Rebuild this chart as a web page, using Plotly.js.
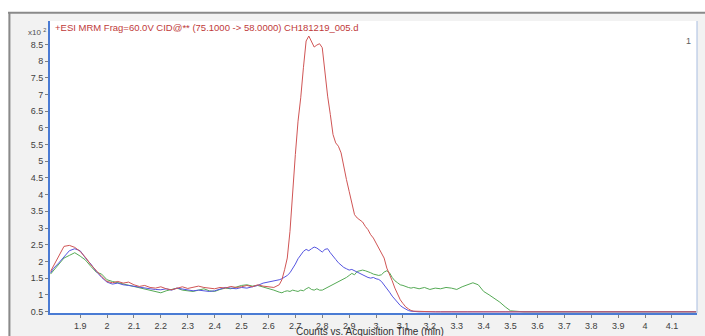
<!DOCTYPE html>
<html>
<head>
<meta charset="utf-8">
<script src="https://cdn.plot.ly/plotly-3.0.1.min.js"></script>
<style>html,body{margin:0;padding:0;background:#fff;}#chart{width:705px;height:336px;}</style>
</head>
<body>
<div id="chart"></div>
<script>
// Acquisition time (min)
var time = [1.79,1.80,1.82,1.84,1.86,1.88,1.90,1.92,1.94,1.96,1.98,2.00,2.02,2.04,2.06,2.08,2.10,2.12,2.14,2.16,2.18,2.20,2.22,2.24,2.26,2.28,2.30,2.32,2.34,2.36,2.38,2.40,2.42,2.44,2.46,2.48,2.50,2.52,2.54,2.56,2.58,2.60,2.62,2.64,
2.65,2.66,2.67,2.68,2.69,2.70,2.71,2.72,2.73,2.74,2.75,2.76,2.77,2.78,2.79,2.80,2.81,2.82,2.83,2.84,2.85,2.86,2.87,2.88,2.89,2.90,2.91,2.92,2.93,2.94,2.95,2.96,2.97,2.98,2.99,3.00,3.01,3.02,3.03,3.04,3.05,3.06,3.07,3.08,3.09,3.10,3.11,3.12,3.13,3.14,
3.16,3.18,3.20,3.22,3.24,3.26,3.28,3.30,3.32,3.34,3.36,3.38,3.40,3.42,3.44,3.46,3.48,3.50,
3.55,3.60,3.70,3.80,3.90,4.00,4.10,4.19];

// Counts (x10^2)
var redCounts = [1.70,1.85,2.15,2.45,2.48,2.42,2.30,2.12,1.90,1.72,1.55,1.40,1.36,1.40,1.35,1.38,1.30,1.25,1.28,1.22,1.20,1.24,1.18,1.15,1.20,1.24,1.19,1.22,1.26,1.22,1.20,1.18,1.22,1.20,1.25,1.22,1.24,1.28,1.24,1.30,1.26,1.24,1.22,1.30,
1.45,1.75,2.10,2.90,4.20,5.20,6.20,6.90,7.80,8.60,8.75,8.60,8.42,8.48,8.52,8.40,7.60,6.95,6.40,5.80,5.55,5.45,5.25,4.80,4.45,4.10,3.70,3.40,3.30,3.25,3.18,3.05,2.95,2.80,2.70,2.55,2.40,2.25,2.10,1.80,1.62,1.42,1.20,1.00,0.85,0.74,0.64,0.58,0.53,0.51,
0.50,0.49,0.50,0.49,0.49,0.50,0.49,0.49,0.50,0.49,0.49,0.50,0.49,0.49,0.50,0.49,0.49,0.49,
0.49,0.50,0.49,0.49,0.50,0.49,0.49,0.49];

var blueCounts = [1.65,1.78,1.95,2.15,2.32,2.38,2.32,2.10,1.92,1.70,1.52,1.38,1.32,1.35,1.30,1.28,1.25,1.22,1.20,1.18,1.16,1.15,1.18,1.14,1.20,1.17,1.15,1.12,1.14,1.12,1.10,1.12,1.18,1.22,1.20,1.18,1.22,1.20,1.24,1.28,1.35,1.38,1.42,1.45,
1.48,1.52,1.58,1.66,1.78,1.92,2.08,2.20,2.30,2.36,2.32,2.38,2.43,2.40,2.34,2.28,2.36,2.38,2.26,2.14,2.06,1.96,1.88,1.82,1.78,1.74,1.76,1.72,1.66,1.62,1.60,1.56,1.52,1.50,1.52,1.48,1.46,1.40,1.30,1.20,1.08,0.96,0.86,0.76,0.68,0.62,0.57,0.53,0.51,0.50,
0.49,0.49,0.50,0.49,0.49,0.49,0.50,0.49,0.49,0.49,0.50,0.49,0.49,0.49,0.49,0.50,0.49,0.49,
0.49,0.49,0.50,0.49,0.49,0.49,0.50,0.49];

var greenCounts = [1.62,1.72,1.92,2.10,2.18,2.26,2.16,2.04,1.85,1.68,1.62,1.45,1.40,1.36,1.32,1.30,1.26,1.22,1.18,1.14,1.10,1.06,1.12,1.16,1.20,1.14,1.12,1.10,1.14,1.18,1.12,1.10,1.16,1.20,1.18,1.24,1.28,1.30,1.26,1.28,1.24,1.20,1.14,1.08,
1.06,1.10,1.12,1.10,1.14,1.12,1.10,1.14,1.12,1.18,1.22,1.16,1.14,1.18,1.14,1.14,1.18,1.22,1.26,1.30,1.34,1.38,1.42,1.46,1.52,1.58,1.64,1.60,1.70,1.72,1.74,1.72,1.70,1.66,1.62,1.60,1.58,1.60,1.68,1.72,1.66,1.52,1.42,1.36,1.30,1.28,1.24,1.22,1.20,1.22,
1.18,1.22,1.16,1.20,1.18,1.22,1.20,1.16,1.24,1.30,1.36,1.30,1.10,1.00,0.90,0.78,0.64,0.52,
0.49,0.49,0.50,0.49,0.49,0.50,0.49,0.49];

var xTicks = [1.9,2,2.1,2.2,2.3,2.4,2.5,2.6,2.7,2.8,2.9,3,3.1,3.2,3.3,3.4,3.5,3.6,3.7,3.8,3.9,4,4.1];
var yTicks = [0.5,1,1.5,2,2.5,3,3.5,4,4.5,5,5.5,6,6.5,7,7.5,8,8.5];

var traces = [
  {x: time, y: greenCounts, type: 'scatter', mode: 'lines', line: {color: '#55aa55', width: 1}, hoverinfo: 'skip'},
  {x: time, y: blueCounts, type: 'scatter', mode: 'lines', line: {color: '#5555e0', width: 1}, hoverinfo: 'skip'},
  {x: time, y: redCounts, type: 'scatter', mode: 'lines', line: {color: '#d05555', width: 1}, hoverinfo: 'skip'}
];

var tickFont = {family: 'Liberation Sans, Arial, sans-serif', size: 9, color: '#404040'};

var layout = {
  width: 705, height: 336,
  margin: {l: 50, r: 8, t: 21, b: 23, pad: 0},
  paper_bgcolor: '#f2f2f2',
  plot_bgcolor: '#ffffff',
  showlegend: false,
  xaxis: {
    range: [1.788, 4.193], tickvals: xTicks, ticktext: xTicks.map(String),
    showgrid: false, zeroline: false, showline: true, linecolor: '#4a7bd4', linewidth: 2,
    ticks: 'outside', ticklen: 3, tickcolor: '#808080', tickfont: tickFont
  },
  yaxis: {
    range: [0.455, 9.2], tickvals: yTicks, ticktext: yTicks.map(String),
    showgrid: false, zeroline: false, showline: true, linecolor: '#4a7bd4', linewidth: 2,
    ticks: 'outside', ticklen: 3, tickcolor: '#808080', tickfont: tickFont
  },
  shapes: [
    {type: 'rect', xref: 'paper', yref: 'paper', x0: -0.08, x1: 1.02, y0: 1.031, y1: 1.08, fillcolor: '#ffffff', line: {width: 0}, layer: 'below'},
    {type: 'rect', xref: 'paper', yref: 'paper', x0: -0.08, x1: -0.0649, y0: -0.1, y1: 1.08, fillcolor: '#ffffff', line: {width: 0}, layer: 'below'},
    {type: 'line', xref: 'paper', yref: 'paper', x0: -0.0649, x1: 1.02, y0: 1.028, y1: 1.028, line: {color: '#8a8a8a', width: 2}},
    {type: 'line', xref: 'paper', yref: 'paper', x0: -0.0627, x1: -0.0627, y0: -0.1, y1: 1.028, line: {color: '#8a8a8a', width: 2}},
    {type: 'line', xref: 'paper', yref: 'paper', x0: 1, x1: 1, y0: 0, y1: 1, line: {color: '#a8bde0', width: 1}}
  ],
  annotations: [
    {text: '+ESI MRM Frag=60.0V CID@** (75.1000 -> 58.0000) CH181219_005.d', xref: 'paper', yref: 'paper', x: 0.004, y: 0.979,
     xanchor: 'left', yanchor: 'middle', showarrow: false, font: {family: 'Liberation Sans, Arial, sans-serif', size: 9.5, color: '#c03a3a'}},
    {text: 'x10 <sup>2</sup>', xref: 'paper', yref: 'paper', x: -0.003, y: 0.962, xanchor: 'right', yanchor: 'middle', showarrow: false,
     font: {family: 'Liberation Sans, Arial, sans-serif', size: 8, color: '#505050'}},
    {text: '1', xref: 'paper', yref: 'paper', x: 0.994, y: 0.932, xanchor: 'right', yanchor: 'middle', showarrow: false,
     font: {family: 'Liberation Sans, Arial, sans-serif', size: 9, color: '#606060'}},
    {text: 'Counts vs. Acquisition Time (min)', xref: 'paper', yref: 'paper', x: 0.495, y: -0.063, xanchor: 'center', yanchor: 'middle', showarrow: false,
     font: {family: 'Liberation Sans, Arial, sans-serif', size: 10, color: '#303030'}}
  ]
};

Plotly.newPlot('chart', traces, layout, {staticPlot: true, displayModeBar: false});
</script>
</body>
</html>
